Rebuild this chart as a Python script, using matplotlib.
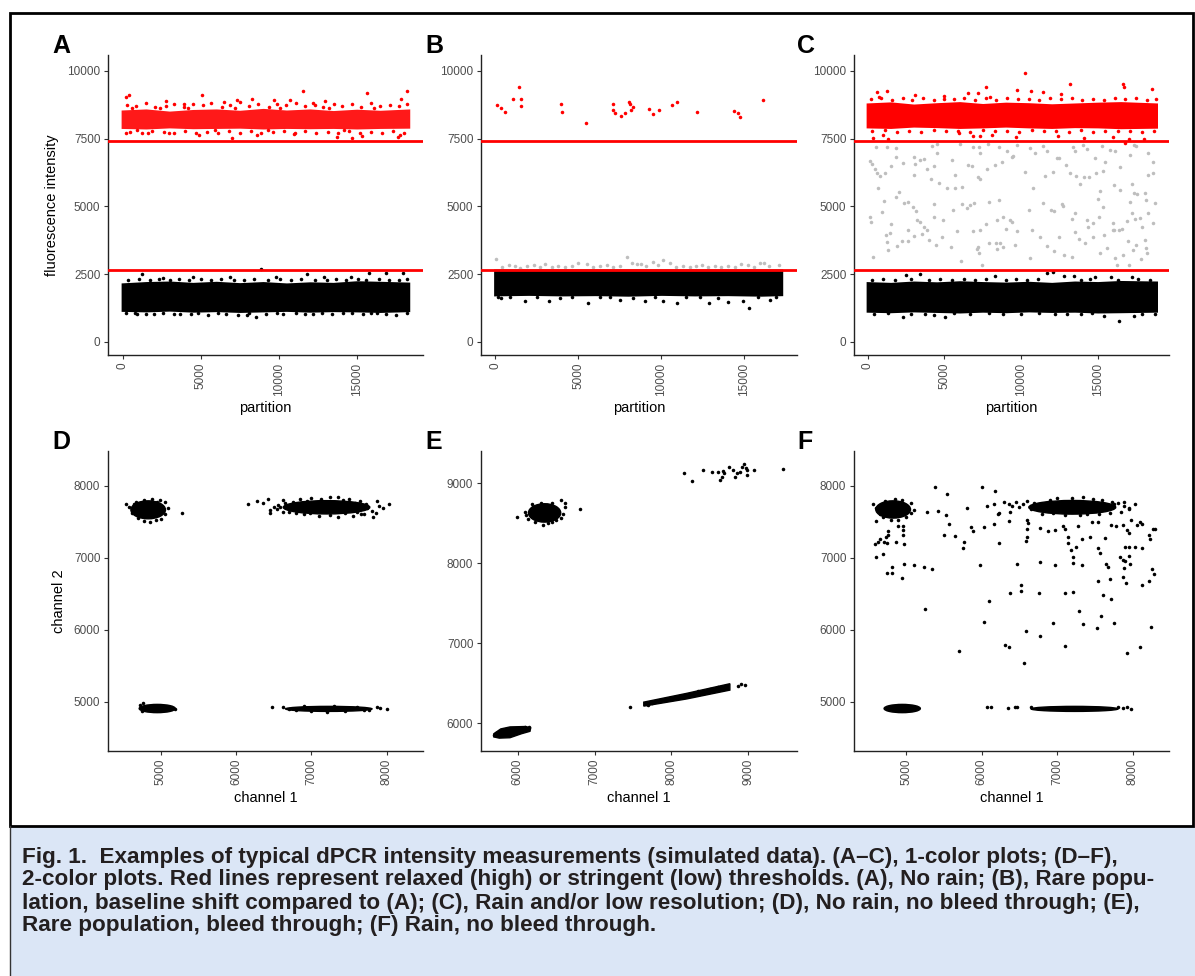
import matplotlib
matplotlib.use("Agg")
import matplotlib.pyplot as plt
from matplotlib.patches import Ellipse, Polygon, Rectangle
from matplotlib.lines import Line2D

W, H = 1195, 976

# thresholds (red lines)
high_thr = 7400
low_thr = 2650

# ---------------- A: no rain ----------------
a_band_x = [-100, 1500, 3000, 4500, 6000, 7500, 9000, 10500, 12000, 13500, 15000, 16500, 18400]
a_black_top = [2180, 2230, 2250, 2200, 2240, 2190, 2230, 2180, 2220, 2200, 2260, 2240, 2210]
a_black_bottom = [1130, 1110, 1140, 1100, 1120, 1090, 1110, 1130, 1100, 1120, 1110, 1090, 1120]
a_red_top = [8560, 8600, 8520, 8580, 8600, 8550, 8620, 8560, 8600, 8540, 8590, 8550, 8600]
a_red_bottom = [7880, 7860, 7900, 7870, 7880, 7890, 7860, 7880, 7870, 7880, 7860, 7880, 7890]
a_black_pts = [(1218, 2509), (8865, 2681), (11800, 2509), (15820, 2558), (16890, 2534), (4526, 2386),
               (6876, 2386), (9820, 2411), (14630, 2386), (17970, 2534), (2600, 2350), (12900, 2380),
               (897, 1021), (4354, 1033), (5487, 996), (8546, 910), (7948, 996), (12218, 1033),
               (14141, 1058), (15423, 1033), (15893, 1058), (17517, 996), (7414, 1009), (2000, 1033),
               (10300, 1040), (3300, 1050),
               (350, 2290), (1050, 2320), (1750, 2270), (2300, 2330), (3050, 2280), (3600, 2310),
               (4250, 2290), (5000, 2340), (5650, 2280), (6300, 2320), (7150, 2300), (7800, 2270),
               (8400, 2330), (9300, 2290), (10100, 2310), (10800, 2270), (11400, 2320), (12300, 2290),
               (13100, 2300), (13700, 2340), (14300, 2280), (15100, 2310), (15600, 2290), (16400, 2330),
               (17100, 2300), (17700, 2280), (18250, 2310),
               (200, 1060), (800, 1080), (1500, 1040), (2600, 1070), (3700, 1050), (4800, 1080),
               (6100, 1060), (6600, 1040), (8100, 1070), (9200, 1050), (9900, 1080), (11100, 1060),
               (11700, 1040), (12800, 1070), (13400, 1050), (14700, 1060), (16300, 1070), (16900, 1040),
               (18200, 1060)]
a_red_pts = [(192, 9053), (427, 9102), (5110, 9114), (7311, 8942), (8316, 8954), (9705, 8930),
             (11543, 9274), (15646, 9176), (10731, 8930), (2758, 8893), (18200, 9262), (17840, 8954),
             (13000, 8880), (3900, 8800), (6500, 8850), (12200, 8820), (212, 7724), (4891, 7638),
             (6987, 7540), (8632, 7650), (13717, 7552), (14679, 7528), (15320, 7589), (17778, 7626),
             (17665, 7577), (1600, 7700), (11000, 7690), (3000, 7720),
             (300, 8750), (850, 8690), (1520, 8820), (2080, 8660), (2750, 8720), (3320, 8800),
             (3950, 8670), (4480, 8780), (5130, 8740), (5680, 8820), (6350, 8680), (6880, 8760),
             (7530, 8840), (8120, 8690), (8680, 8780), (9350, 8670), (9880, 8800), (10480, 8740),
             (11130, 8820), (11680, 8690), (12330, 8760), (12870, 8680), (13520, 8800), (14080, 8700),
             (14730, 8780), (15280, 8660), (15930, 8820), (16480, 8700), (17130, 8760), (17680, 8690),
             (18220, 8800), (600, 8640), (2400, 8650), (4200, 8640), (7200, 8630), (10100, 8650),
             (13200, 8640), (16100, 8650),
             (500, 7760), (1230, 7720), (1880, 7790), (2620, 7740), (3310, 7700), (4020, 7790),
             (4680, 7730), (5420, 7760), (6120, 7700), (6790, 7780), (7520, 7720), (8230, 7790),
             (8880, 7700), (9620, 7740), (10330, 7780), (11020, 7720), (11680, 7790), (12420, 7700),
             (13130, 7750), (13820, 7720), (14520, 7790), (15190, 7700), (15920, 7760), (16620, 7730),
             (17320, 7790), (18020, 7710), (900, 7840), (5900, 7840), (9300, 7830), (14200, 7840)]

# ---------------- B: rare population, baseline shift ----------------
b_band_x = [-100, 2000, 4000, 6000, 8000, 10000, 12000, 14000, 16000, 17300]
b_black_top = [2690, 2690, 2690, 2690, 2690, 2690, 2690, 2690, 2690, 2690]
b_black_bottom = [1700, 1720, 1700, 1710, 1690, 1720, 1700, 1710, 1690, 1710]
b_red_pts = [(80, 8733), (341, 8635), (602, 8487), (1064, 8979), (1425, 9410), (1545, 8979),
             (1525, 8708), (3954, 8770), (4034, 8475), (5479, 8081), (7065, 8782), (7105, 8561),
             (7225, 8462), (7586, 8339), (7827, 8462), (8028, 8856), (8128, 8782), (8269, 8684),
             (8188, 8561), (9272, 8610), (9513, 8426), (9854, 8549), (10637, 8733), (10918, 8856),
             (12142, 8475), (14390, 8536), (14631, 8462), (14751, 8315), (16116, 8930)]
b_grey_pts = [(24, 3063), (400, 2760), (800, 2830), (1200, 2800), (1500, 2740), (1900, 2790),
              (2300, 2850), (2700, 2760), (3000, 2880), (3400, 2780), (3800, 2820), (4200, 2760),
              (4600, 2800), (5000, 2900), (5500, 2880), (5900, 2750), (6300, 2790), (6700, 2830),
              (7100, 2770), (7500, 2810), (7910, 3125), (8210, 2904), (8500, 2860), (8800, 2880),
              (9100, 2800), (9516, 2965), (9800, 2840), (10077, 3026), (10518, 2904), (10900, 2780),
              (11300, 2820), (11700, 2760), (12100, 2800), (12444, 2842), (12800, 2760), (13200, 2810),
              (13600, 2750), (14000, 2790), (14400, 2770), (14800, 2860), (15200, 2830), (15600, 2780),
              (15936, 2929), (16176, 2929), (16500, 2800), (17100, 2842)]
b_black_pts = [(343, 1612), (1788, 1513), (3233, 1524), (5600, 1428), (7507, 1550), (9012, 1513),
               (10077, 1513), (10918, 1450), (12847, 1428), (14027, 1476), (14930, 1513), (15255, 1266),
               (16537, 1550),
               (150, 1660), (900, 1650), (2500, 1670), (3900, 1640), (4600, 1660), (6300, 1650),
               (6900, 1670), (8300, 1640), (9600, 1660), (11500, 1650), (12300, 1670), (13400, 1640),
               (15800, 1660), (16900, 1650)]

# ---------------- C: rain / low resolution ----------------
c_band_x = [-100, 1500, 3000, 4500, 6000, 7500, 9000, 10500, 12000, 13500, 15000, 16500, 18900]
c_black_top = [2230, 2200, 2250, 2220, 2260, 2230, 2210, 2240, 2200, 2250, 2230, 2270, 2250]
c_black_bottom = [1100, 1080, 1110, 1090, 1070, 1100, 1080, 1110, 1090, 1100, 1070, 1080, 1100]
c_red_top = [8820, 8860, 8780, 8830, 8870, 8800, 8850, 8830, 8790, 8820, 8850, 8870, 8820]
c_red_bottom = [7900, 7880, 7930, 7910, 7880, 7900, 7930, 7900, 7880, 7910, 7900, 7870, 7890]
c_red_pts = [(10278, 9926), (13190, 9520), (16645, 9533), (16732, 9397), (18514, 9323), (7692, 9422),
             (9713, 9299), (10626, 9274), (717, 9053), (609, 9237), (1282, 9250), (3086, 9114),
             (4998, 9090), (6562, 9200), (7214, 9176), (11452, 9237), (12603, 9151), (7975, 9053),
             (369, 7540), (1021, 7638), (1304, 7491), (7323, 7589), (8127, 7638), (9692, 7552),
             (12430, 7601), (14103, 7540), (16775, 7331), (17058, 7478), (18036, 7478), (16015, 7577),
             (5975, 7724), (6888, 7601),
             (250, 8950), (900, 9010), (1600, 8930), (2300, 9000), (2900, 8940), (3600, 8990),
             (4300, 8920), (5000, 8980), (5600, 8950), (6300, 9020), (7000, 8940), (7700, 8990),
             (8400, 8930), (9100, 9000), (9800, 8950), (10500, 8980), (11200, 8920), (11900, 9010),
             (12600, 8950), (13300, 8990), (14000, 8930), (14700, 8970), (15400, 8940), (16100, 9000),
             (16800, 8950), (17500, 9010), (18200, 8940), (18800, 8980),
             (300, 7780), (1100, 7820), (1900, 7760), (2700, 7800), (3500, 7750), (4300, 7810),
             (5100, 7770), (5900, 7790), (6700, 7750), (7500, 7810), (8300, 7770), (9100, 7800),
             (9900, 7760), (10700, 7820), (11500, 7770), (12300, 7790), (13100, 7750), (13900, 7810),
             (14700, 7760), (15500, 7800), (16300, 7770), (17100, 7790), (17900, 7750), (18700, 7800)]
c_black_pts = [(2499, 2460), (3412, 2509), (8301, 2423), (11669, 2558), (12060, 2595), (12799, 2423),
               (13451, 2435), (14820, 2386), (15863, 2411), (17210, 2386), (2325, 910), (3738, 1033),
               (5041, 910), (15428, 947), (16384, 775), (17384, 959), (18731, 1033), (4324, 996),
               (12973, 1033),
               (300, 2300), (1000, 2330), (1800, 2290), (2800, 2320), (4000, 2300), (4700, 2340),
               (5500, 2290), (6300, 2330), (7000, 2300), (7700, 2320), (9000, 2300), (9700, 2330),
               (10400, 2290), (11100, 2320), (13900, 2300), (14500, 2330), (16300, 2300), (17600, 2320),
               (18400, 2300),
               (400, 1040), (1300, 1060), (2800, 1050), (5600, 1060), (6700, 1040), (7900, 1060),
               (8800, 1050), (10000, 1040), (11200, 1060), (12200, 1050), (13900, 1040), (14600, 1060),
               (17900, 1050)]
c_grey_pts = [
    (152, 6691), (261, 6568), (543, 7208), (1239, 7208), (1847, 7171), (3020, 6839), (3412, 6716),
    (3672, 6740), (4172, 7245), (4498, 7306), (4498, 6986), (5519, 6716), (6019, 7306), (6888, 7208),
    (7280, 7208), (7323, 6986), (7866, 7306), (8583, 7208), (9061, 7060), (9409, 6814), (9757, 7257),
    (10582, 7171), (10908, 6986), (11452, 7232), (11669, 7060), (12321, 6777), (12495, 6777),
    (13364, 7208), (13538, 7060), (14059, 7269), (14277, 7109), (14798, 6777), (15254, 7232),
    (15472, 6630), (15798, 7085), (16124, 7060), (17102, 6900), (17384, 7282), (18296, 6962),
    (18579, 6654), (17493, 7232),
    (478, 6371), (587, 6248), (804, 6125), (1130, 6224), (652, 5670), (1499, 6494), (1847, 6839),
    (2282, 6593), (3086, 6568), (3042, 6175), (3846, 6371), (4346, 6494), (4107, 6002), (4672, 5855),
    (5150, 5670), (5693, 5695), (6128, 5732), (5693, 6162), (6519, 6531), (6823, 6494), (7171, 6101),
    (7323, 6002), (7758, 6371), (8323, 6531), (8779, 6642), (9496, 6863), (10257, 6285), (10800, 5695),
    (11560, 6125), (12060, 6285), (12929, 6531), (13190, 6248), (13560, 6125), (13842, 5818),
    (14081, 6076), (14450, 6101), (14863, 6224), (15146, 5584), (15363, 6322), (16080, 5793),
    (16450, 5609), (17254, 5830), (17384, 5486), (17580, 5449), (18253, 6162), (18623, 6224),
    (18079, 5510), (16450, 6470),
    (152, 4625), (196, 4428), (1065, 5203), (934, 4809), (1499, 4342), (1847, 5363), (2043, 5547),
    (2369, 5117), (2651, 5178), (2934, 4969), (3151, 4846), (3194, 4502), (3412, 4440), (3694, 4256),
    (3846, 4133), (4324, 5092), (4346, 4625), (4933, 4502), (5585, 4871), (6128, 5092), (6454, 4932),
    (6671, 5055), (6932, 5117), (7323, 4133), (7692, 4354), (7910, 5178), (8410, 4502), (8583, 5240),
    (8801, 4600), (9279, 4502), (9409, 4416), (10496, 4871), (11452, 5141), (11952, 4871),
    (12169, 4846), (12647, 5092), (12755, 5018), (13342, 4539), (13516, 4748), (14277, 4502),
    (14342, 4256), (14668, 4403), (14994, 5289), (15102, 4600), (15320, 4994), (16015, 4379),
    (16406, 4133), (16558, 4157), (17102, 5178), (17210, 4748), (17449, 4526), (17753, 4563),
    (18122, 5240), (18253, 4748), (18731, 5141), (18623, 4403), (17862, 4256), (16884, 4477),
    (16015, 4133),
    (1195, 3961), (1456, 4010), (1239, 3702), (1347, 3395), (1934, 3555), (2238, 3739), (2651, 4133),
    (2651, 3715), (3020, 3911), (3564, 3973), (4020, 3764), (4433, 3579), (4868, 3862), (5411, 3518),
    (5802, 4108), (6084, 3001), (6845, 4096), (7106, 3419), (7214, 3518), (7258, 3272), (7432, 2841),
    (7931, 3665), (8366, 3641), (8410, 3432), (8627, 3665), (8844, 3518), (9018, 4157), (9605, 3579),
    (9757, 4108), (10582, 3087), (10691, 4133), (11234, 3862), (11669, 3542), (12169, 3370),
    (12495, 3887), (12799, 3198), (13299, 3149), (13516, 4071), (13777, 3801), (14168, 3665),
    (14711, 3862), (15146, 3272), (15407, 3948), (15602, 3456), (16080, 4133), (16124, 3087),
    (16276, 2841), (16667, 3210), (16971, 3739), (17058, 2841), (17275, 3395), (17493, 3579),
    (17819, 3075), (18079, 3764), (18144, 3456), (18231, 3296), (369, 3124)]

# ---------------- D: no rain, no bleed through ----------------
# dense clusters: (centre ch1, centre ch2, spread ch1, spread ch2)
d_clusters = [(4830, 7665, 460, 250), (7200, 7700, 1150, 185), (4950, 4905, 480, 115), (7230, 4900, 1150, 70)]
d_pts = [(4535, 7741), (4580, 7700), (4620, 7620), (4700, 7545), (4780, 7510), (4850, 7500), (4930, 7520),
         (5000, 7540), (5060, 7600), (5090, 7690), (5060, 7770), (4990, 7800), (4880, 7810), (4770, 7800),
         (4670, 7780), (5275, 7625), (4640, 7740), (4720, 7590), (5020, 7650), (4950, 7780),
         (6161, 7745), (6280, 7787), (6360, 7755), (6418, 7815), (6449, 7662), (6449, 7616), (6502, 7700),
         (6617, 7801), (6582, 7700), (6670, 7718), (6700, 7640), (6750, 7780), (6850, 7820), (7000, 7830),
         (7250, 7840), (7350, 7850), (7500, 7810), (7650, 7790), (7857, 7625), (7813, 7569), (7955, 7690),
         (7866, 7787), (8035, 7745), (7733, 7685), (7700, 7600), (7550, 7580), (7350, 7570), (7100, 7580),
         (6900, 7600), (6800, 7620), (7450, 7620), (7600, 7640), (7800, 7650), (6650, 7760), (6560, 7730),
         (6620, 7640), (6760, 7700), (6940, 7790), (7120, 7820), (7420, 7800), (7580, 7760), (7720, 7740),
         (7900, 7720), (6980, 7620), (7240, 7590), (7660, 7610), (6540, 7680),
         (4720, 4960), (4760, 4980), (5180, 4895), (4750, 4870),
         (6471, 4922), (6620, 4920), (6700, 4905), (6800, 4880), (7000, 4870), (7200, 4860), (7450, 4875),
         (7700, 4890), (7770, 4884), (7866, 4921), (7910, 4907), (8000, 4893), (7600, 4930), (7300, 4945),
         (6900, 4935)]

# ---------------- E: rare population, bleed through ----------------
e_clusters = [(6350, 8630, 420, 230)]
e_diag_band = [(7640, 6215), (7640, 6265), (8200, 6375), (8760, 6495), (8760, 6415), (8200, 6305)]
e_low_cluster = [(5690, 5830), (5690, 5870), (5780, 5930), (5900, 5955), (6100, 5960), (6170, 5945),
                 (6160, 5900), (6050, 5870), (5900, 5820), (5760, 5815)]
e_pts = [(5987, 8579), (6810, 8675), (6090, 8640), (6110, 8600), (6200, 8700), (6300, 8760), (6450, 8760),
         (6560, 8790), (6610, 8760), (6620, 8700), (6560, 8570), (6450, 8520), (6330, 8480), (6230, 8520),
         (6130, 8560), (6500, 8540), (6180, 8740), (6400, 8500), (6590, 8620),
         (7456, 6204), (8955, 6479), (8900, 6490), (8860, 6470), (7700, 6230), (7750, 6250), (8500, 6430),
         (8600, 6460), (8700, 6440), (7680, 6245), (8000, 6310), (8350, 6400),
         (8167, 9133), (8266, 9033), (8414, 9167), (8522, 9138), (8608, 9146), (8630, 9042), (8673, 9154),
         (8652, 9083), (8687, 9133), (8743, 9208), (8803, 9167), (8825, 9083), (8847, 9133), (8890, 9146),
         (8912, 9208), (8942, 9242), (8968, 9188), (8986, 9167), (8977, 9104), (9076, 9167), (9445, 9179),
         (5690, 5850), (5720, 5880), (6150, 5950), (6100, 5960)]

# ---------------- F: rain, no bleed through ----------------
f_clusters = [(4830, 7670, 460, 240), (7200, 7700, 1150, 190), (4950, 4905, 480, 115), (7230, 4900, 1150, 70)]
f_pts = [(4560, 7740), (4600, 7690), (4650, 7600), (4700, 7560), (4800, 7520), (4900, 7530), (5000, 7560),
         (5060, 7620), (5100, 7660), (5070, 7760), (4950, 7800), (4850, 7810), (4720, 7790),
         (6400, 7720), (6450, 7780), (6500, 7700), (6550, 7740), (6600, 7790), (6650, 7680), (7340, 7850),
         (7000, 7830), (7600, 7800), (7800, 7760), (7880, 7720), (7950, 7680), (6800, 7610), (7100, 7590),
         (7400, 7600), (7700, 7620), (7850, 7640), (6700, 7760), (6900, 7800), (7200, 7830), (7480, 7820),
         (7720, 7780), (6950, 7620), (7300, 7590), (7550, 7610),
         (6067, 4921), (6120, 4930), (6345, 4916), (6447, 4921), (6473, 4921), (7875, 4916), (7972, 4903),
         (7924, 4920), (6650, 4920), (7800, 4930)]
f_rain = [(5384, 7986), (5547, 7884), (5273, 7630), (5428, 7644), (5525, 7593), (5573, 7463), (5498, 7310),
          (5644, 7301), (5803, 7694), (5860, 7430), (5891, 7375), (5772, 7213), (5750, 7130), (6001, 7977),
          (6177, 7931), (6072, 7722), (6032, 7430), (6160, 7745), (6235, 7616), (6164, 7472), (6235, 7199),
          (5984, 6893), (6098, 6398), (6028, 6111), (5701, 5708), (6305, 5787), (6358, 5764), (6376, 6509),
          (6473, 6906), (6517, 6619), (6517, 6542), (6583, 5986), (6565, 5532), (6768, 6940), (6764, 6509),
          (6772, 5912), (6949, 6097), (6975, 6902), (7103, 5774), (7103, 6509), (7213, 6519), (7288, 6260),
          (7345, 6079), (7323, 6893), (7531, 6023), (7579, 6185), (7601, 6486), (7544, 6676), (7677, 6870),
          (7703, 6699), (7712, 6426), (7752, 6088), (7871, 6727), (7884, 6861), (7910, 6648), (7919, 5681),
          (8096, 5764), (8242, 6042), (8255, 6843), (8286, 6773), (8123, 6620), (8220, 6680),
          (7138, 7282), (7147, 7208), (7213, 7005), (7213, 6930), (7178, 7106), (7244, 7153), (7332, 7259),
          (7429, 7291), (7544, 7130), (7570, 7065), (7632, 7269), (7641, 6912), (7835, 7005), (7875, 6968),
          (7902, 7153), (7955, 7153), (8030, 7153), (8123, 7139), (8228, 7264), (8264, 7403), (8290, 7394),
          (8220, 7315), (7950, 7019), (7963, 6912), (7902, 6958), (8061, 7449), (8092, 7495), (8118, 7468),
          (8034, 7750), (7955, 7685), (7981, 7523), (7919, 7384), (7950, 7338), (7866, 7454), (7778, 7440),
          (7712, 7454), (7535, 7491), (7456, 7500), (7279, 7440), (7072, 7440), (7103, 7403), (6975, 7384),
          (6874, 7375), (6772, 7412), (6618, 7477), (6596, 7523), (6600, 7394), (6367, 7514), (6380, 7639),
          (6596, 7292), (6587, 7236), (6222, 7606), (6292, 7778), (6367, 7745), (7752, 7745), (7880, 7778),
          (4603, 7505), (4894, 7440), (4964, 7440), (4964, 7385), (4964, 7315), (4766, 7375), (4766, 7315),
          (4735, 7283), (4660, 7255), (4634, 7222), (4586, 7186), (4709, 7222), (4749, 7199), (4872, 7218),
          (4977, 7190), (4603, 7014), (4692, 7051), (4811, 6875), (4745, 6792), (4811, 6792), (4978, 6917),
          (5101, 6903), (5234, 6867), (5340, 6847), (4943, 6714), (5251, 6283)]

caption = [
    "Fig. 1.  Examples of typical dPCR intensity measurements (simulated data). (A\u2013C), 1-color plots; (D\u2013F),",
    "2-color plots. Red lines represent relaxed (high) or stringent (low) thresholds. (A), No rain; (B), Rare popu-",
    "lation, baseline shift compared to (A); (C), Rain and/or low resolution; (D), No rain, no bleed through; (E),",
    "Rare population, bleed through; (F) Rain, no bleed through.",
]

plt.rcParams['font.family'] = ['Liberation Sans', 'DejaVu Sans']

fig = plt.figure(figsize=(W / 100, H / 100), dpi=100)

tick_col = '#4D4D4D'
pt_size = 6.5


def px_axes(x0, y0, x1, y1):
    return fig.add_axes([x0 / W, 1 - y1 / H, (x1 - x0) / W, (y1 - y0) / H])


def style(ax, xlim, ylim, xticks, yticks):
    ax.set_xlim(*xlim)
    ax.set_ylim(*ylim)
    ax.set_xticks(xticks)
    ax.set_yticks(yticks)
    for s in ['top', 'right']:
        ax.spines[s].set_visible(False)
    for s in ['left', 'bottom']:
        ax.spines[s].set_linewidth(1.0)
        ax.spines[s].set_color('#222222')
    ax.tick_params(length=3, width=0.8, color='#333333', labelsize=8.5, labelcolor=tick_col, pad=2.5)
    ax.tick_params(axis='x', labelrotation=90)


def scat(ax, pts, color):
    ax.scatter([p[0] for p in pts], [p[1] for p in pts], s=pt_size, c=color, linewidths=0, zorder=3)


def clusters(ax, cl):
    for cx, cy, w, h in cl:
        ax.add_patch(Ellipse((cx, cy), w, h, facecolor='black', edgecolor='black', lw=1.0, zorder=3))


top_xlim = [(-940, 19250), (-860, 18160), (-890, 19650)]
ylim_top = (-480, 10590)
yt_top = [0, 2500, 5000, 7500, 10000]
xt_top = [0, 5000, 10000, 15000]

# A
axA = px_axes(108, 55, 423, 355)
style(axA, top_xlim[0], ylim_top, xt_top, yt_top)
axA.fill_between(a_band_x, a_black_bottom, a_black_top, color='black', lw=0, zorder=2)
axA.fill_between(a_band_x, a_red_bottom, a_red_top, color='red', alpha=0.9, lw=0, zorder=2)
scat(axA, a_black_pts, 'black')
scat(axA, a_red_pts, 'red')
axA.set_ylabel('fluorescence intensity', fontsize=10.5, labelpad=6)

# B
axB = px_axes(481, 55, 797, 355)
style(axB, top_xlim[1], ylim_top, xt_top, yt_top)
scat(axB, b_grey_pts, '#BEBEBE')
axB.fill_between(b_band_x, b_black_bottom, b_black_top, color='black', lw=0, zorder=2)
scat(axB, b_black_pts, 'black')
scat(axB, b_red_pts, 'red')

# C
axC = px_axes(854, 55, 1169, 355)
style(axC, top_xlim[2], ylim_top, xt_top, yt_top)
scat(axC, c_grey_pts, '#BEBEBE')
axC.fill_between(c_band_x, c_black_bottom, c_black_top, color='black', lw=0, zorder=2)
axC.fill_between(c_band_x, c_red_bottom, c_red_top, color='red', lw=0, zorder=2)
scat(axC, c_black_pts, 'black')
scat(axC, c_red_pts, 'red')

for ax in (axA, axB, axC):
    ax.axhline(high_thr, color='red', lw=2.0, zorder=4)
    ax.axhline(low_thr, color='red', lw=2.0, zorder=4)
    ax.set_xlabel('partition', fontsize=10.5, labelpad=4)

# D
axD = px_axes(108, 451, 423, 751)
style(axD, (4296, 8482), (4315, 8482), [5000, 6000, 7000, 8000], [5000, 6000, 7000, 8000])
clusters(axD, d_clusters)
scat(axD, d_pts, 'black')
axD.set_ylabel('channel 2', fontsize=10.5, labelpad=6)

# E
axE = px_axes(481, 451, 797, 751)
style(axE, (5523, 9633), (5654, 9404), [6000, 7000, 8000, 9000], [6000, 7000, 8000, 9000])
clusters(axE, e_clusters)
axE.add_patch(Polygon(e_diag_band, closed=True, facecolor='black', edgecolor='black', lw=1.0, zorder=3))
axE.add_patch(Polygon(e_low_cluster, closed=True, facecolor='black', edgecolor='black', lw=1.0, zorder=3))
scat(axE, e_pts, 'black')

# F
axF = px_axes(854, 451, 1169, 751)
style(axF, (4312, 8480), (4315, 8482), [5000, 6000, 7000, 8000], [5000, 6000, 7000, 8000])
clusters(axF, f_clusters)
scat(axF, f_pts, 'black')
scat(axF, f_rain, 'black')

for ax in (axD, axE, axF):
    ax.set_xlabel('channel 1', fontsize=10.5, labelpad=4)

# panel letters
for lab, x, y in [('A', 52, 53), ('B', 425, 53), ('C', 797, 53), ('D', 52, 449), ('E', 425, 449), ('F', 797, 449)]:
    fig.text(x / W, 1 - y / H, lab, fontsize=18, fontweight='bold', ha='left', va='baseline')

# frame and caption box
fig.patches.append(Rectangle((10 / W, 0), (W - 10) / W, 150 / H, transform=fig.transFigure,
                             facecolor='#DBE6F6', edgecolor='none', zorder=-1))
fig.patches.append(Rectangle((10 / W, 1 - 826 / H), 1183 / W, 813 / H, transform=fig.transFigure,
                             fill=False, edgecolor='black', lw=2.0))
fig.lines.append(Line2D([10 / W, 10 / W], [0, 1 - 826 / H], transform=fig.transFigure, color='#333333', lw=1.0))

for i, line in enumerate(caption):
    fig.text(22 / W, 1 - (857 + 23 * i) / H, line, fontsize=16.2, fontweight='bold', color='#231F20',
             family=['Liberation Sans', 'DejaVu Sans'], ha='left', va='center')

fig.savefig('out.png', dpi=100)
